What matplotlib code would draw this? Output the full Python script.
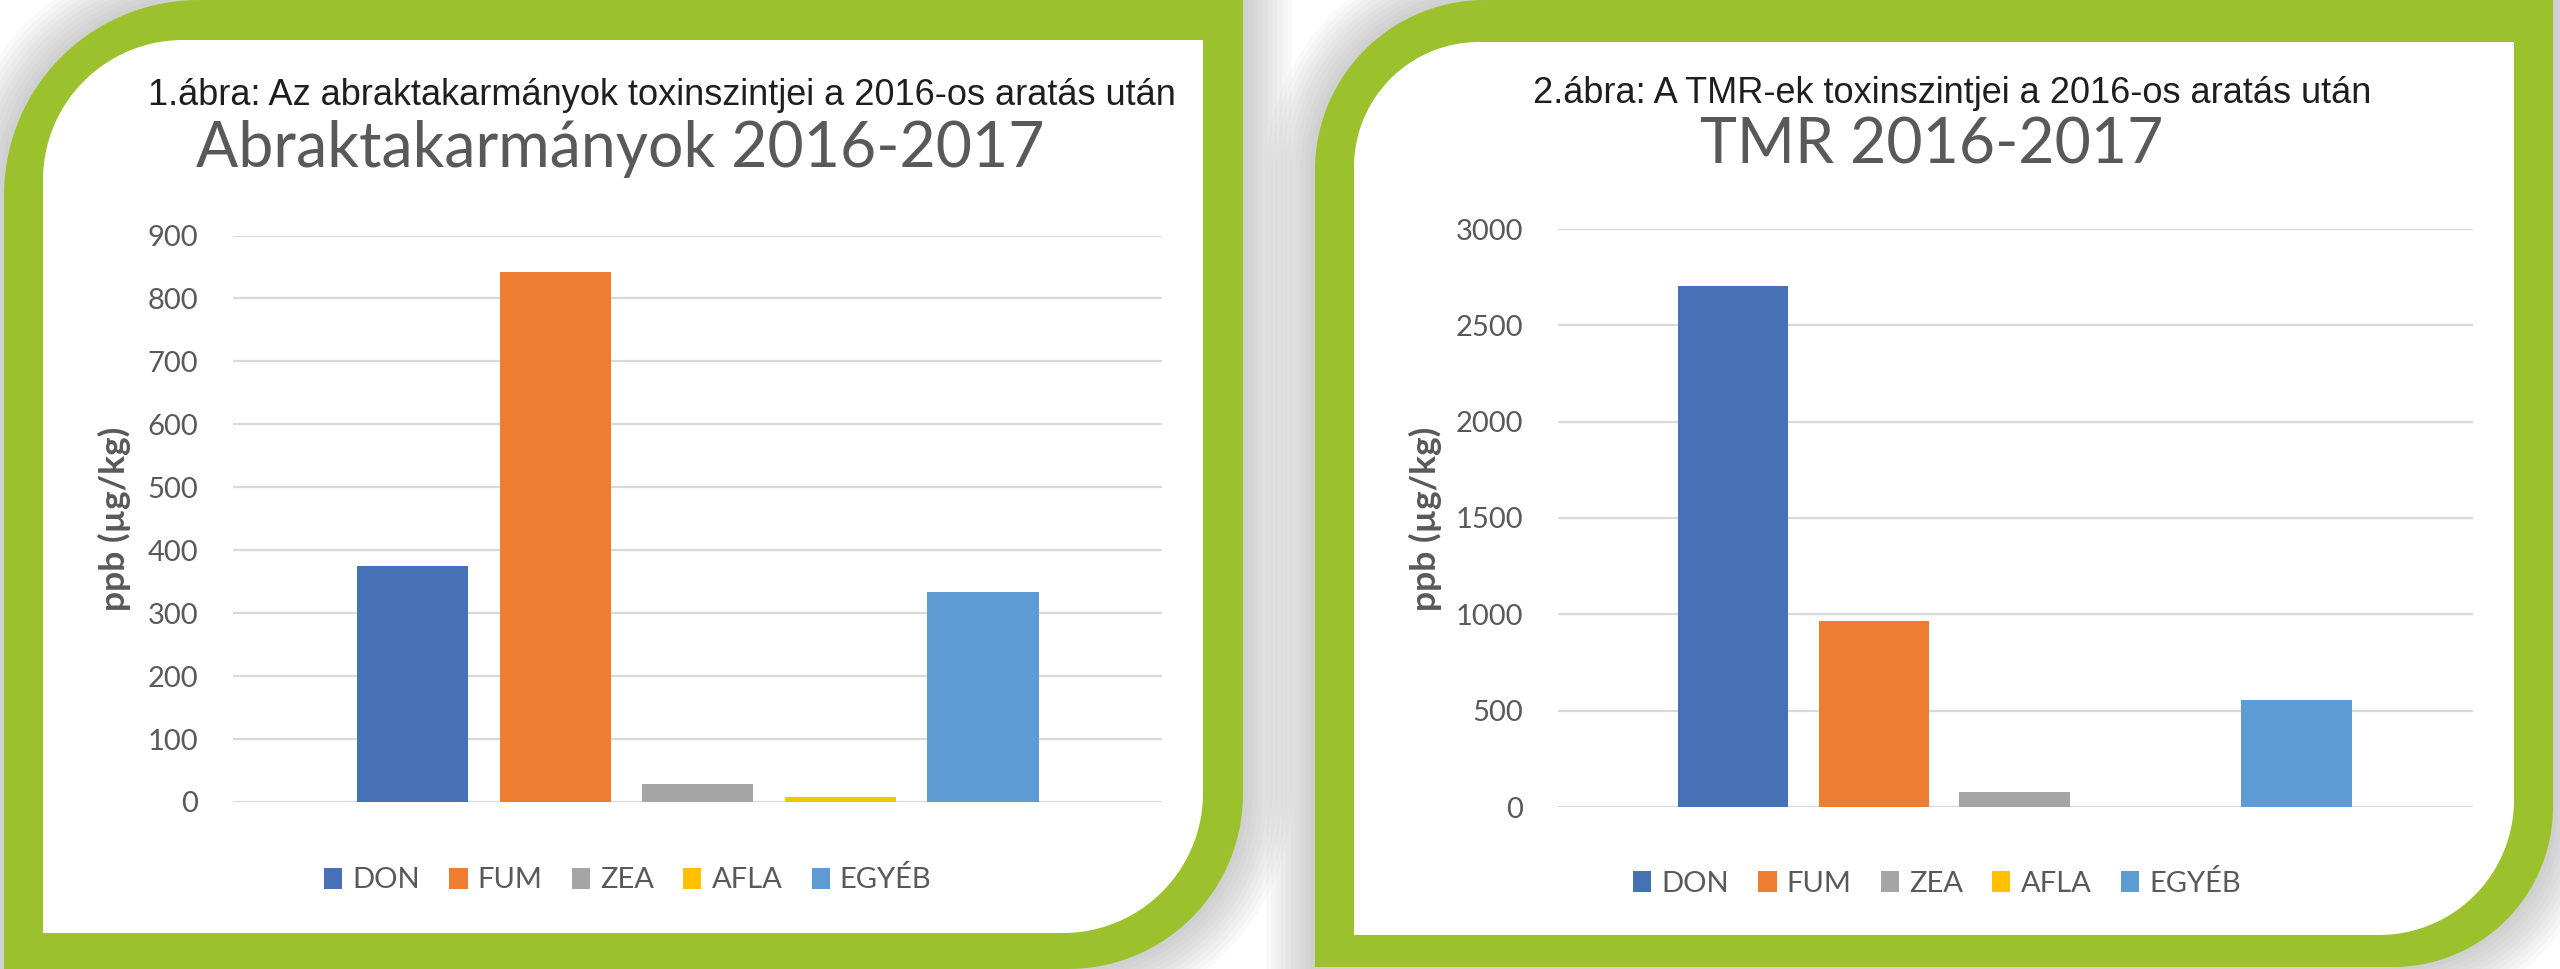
import numpy as np
import matplotlib
matplotlib.use("Agg")
import matplotlib.pyplot as plt
from matplotlib.path import Path
from matplotlib.patches import PathPatch, Patch

# data
categories = ['DON', 'FUM', 'ZEA', 'AFLA', 'EGYÉB']
abrak_values = [375, 842, 29, 8, 334]
tmr_values = [2705, 966, 80, 0, 555]
abrak_ticks = [0, 100, 200, 300, 400, 500, 600, 700, 800, 900]
tmr_ticks = [0, 500, 1000, 1500, 2000, 2500, 3000]
colors = ['#4771b6', '#ed7d31', '#a5a5a5', '#ffc000', '#5e9ad3']

captions = ['1.ábra: Az abraktakarmányok toxinszintjei a 2016-os aratás után',
            '2.ábra: A TMR-ek toxinszintjei a 2016-os aratás után']
titles = ['Abraktakarmányok 2016-2017', 'TMR 2016-2017']
ylabel = 'ppb (µg/kg)'

W, H = 2560, 969
GREEN = '#9bc22c'
GREY = '#595959'
FONT = 'Lato'

fig = plt.figure(figsize=(W / 100, H / 100), dpi=100)
fig.patch.set_facecolor('white')


def px(x, y):
    # pixel (y down) -> figure fraction
    return x / W, 1 - y / H


def rounded(x0, y0, x1, y1, rtl, rtr, rbr, rbl):
    pts = []

    def arc(cx, cy, r, a0, a1):
        if r <= 0:
            pts.append((cx, cy))
            return
        t = np.radians(np.linspace(a0, a1, 40))
        pts.extend(zip(cx + r * np.cos(t), cy + r * np.sin(t)))

    arc(x1 - rtr, y0 + rtr, rtr, -90, 0)
    arc(x1 - rbr, y1 - rbr, rbr, 0, 90)
    arc(x0 + rbl, y1 - rbl, rbl, 90, 180)
    arc(x0 + rtl, y0 + rtl, rtl, 180, 270)
    pts.append(pts[0])
    return Path(pts, closed=True)


# background frames
bg = fig.add_axes([0, 0, 1, 1], zorder=-1)
bg.set_xlim(0, W)
bg.set_ylim(H, 0)
bg.axis('off')

frames = [
    (rounded(4, 0, 1243, 969, 195, 0, 175, 0), rounded(43, 40, 1203, 933, 140, 0, 140, 0)),
    (rounded(1315, 0, 2553, 967, 170, 0, 160, 0), rounded(1354, 42, 2514, 935, 125, 0, 135, 0)),
]
for outer, inner in frames:
    for lw in range(70, 0, -7):
        bg.add_patch(PathPatch(outer, fill=False, edgecolor='#707070', alpha=0.035, lw=lw))
for outer, inner in frames:
    bg.add_patch(PathPatch(outer, facecolor=GREEN, edgecolor='none'))
    bg.add_patch(PathPatch(inner, facecolor='white', edgecolor='none'))

# chart layout: axes rect in pixels, xlim, bar width, text anchors
panels = [
    dict(values=abrak_values, ticks=abrak_ticks, rect=(233, 235.5, 1162, 802),
         xlim=(-1.259, 5.256), width=0.78, caption_xy=(662, 105), title_xy=(620, 167),
         ylab_xy=(114, 519), legend_xy=(628, 880)),
    dict(values=tmr_values, ticks=tmr_ticks, rect=(1558, 229, 2473, 807),
         xlim=(-1.242, 5.252), width=0.785, caption_xy=(1952, 103), title_xy=(1932, 164),
         ylab_xy=(1425, 519), legend_xy=(1937, 883)),
]

for i, p in enumerate(panels):
    x0, y0, x1, y1 = p['rect']
    ax = fig.add_axes([x0 / W, 1 - y1 / H, (x1 - x0) / W, (y1 - y0) / H])
    ax.set_facecolor('none')
    handles = []
    for k, (cat, val) in enumerate(zip(categories, p['values'])):
        ax.bar(k, val, width=p['width'], color=colors[k], zorder=3)
        handles.append(Patch(facecolor=colors[k], label=cat))
    ax.set_xlim(*p['xlim'])
    ax.set_ylim(p['ticks'][0], p['ticks'][-1])
    ax.set_yticks(p['ticks'])
    ax.set_yticklabels([str(t) for t in p['ticks']], fontsize=21, color=GREY, family=FONT)
    ax.set_xticks([])
    ax.tick_params(axis='y', length=0, pad=25)
    ax.grid(axis='y', color='#d9d9d9', lw=1.6, zorder=0)
    for s in ax.spines.values():
        s.set_visible(False)

    fig.text(*px(*p['caption_xy']), captions[i], ha='center', va='baseline',
             fontsize=26, color='#1e1e1e', family='Liberation Sans')
    fig.text(*px(*p['title_xy']), titles[i], ha='center', va='baseline',
             fontsize=45, color=GREY, family=FONT)
    fig.text(*px(*p['ylab_xy']), ylabel, ha='center', va='center', rotation=90,
             fontsize=25.5, color=GREY, family=FONT, fontweight='bold')
    ax.legend(handles=handles, loc='center', bbox_to_anchor=px(*p['legend_xy']),
              bbox_transform=fig.transFigure, ncol=5, frameon=False,
              labelcolor=GREY, prop={'family': FONT, 'size': 21},
              handlelength=0.62, handleheight=0.7, handletextpad=0.35,
              columnspacing=1.0)

fig.savefig('out.png', dpi=100, facecolor='white')
